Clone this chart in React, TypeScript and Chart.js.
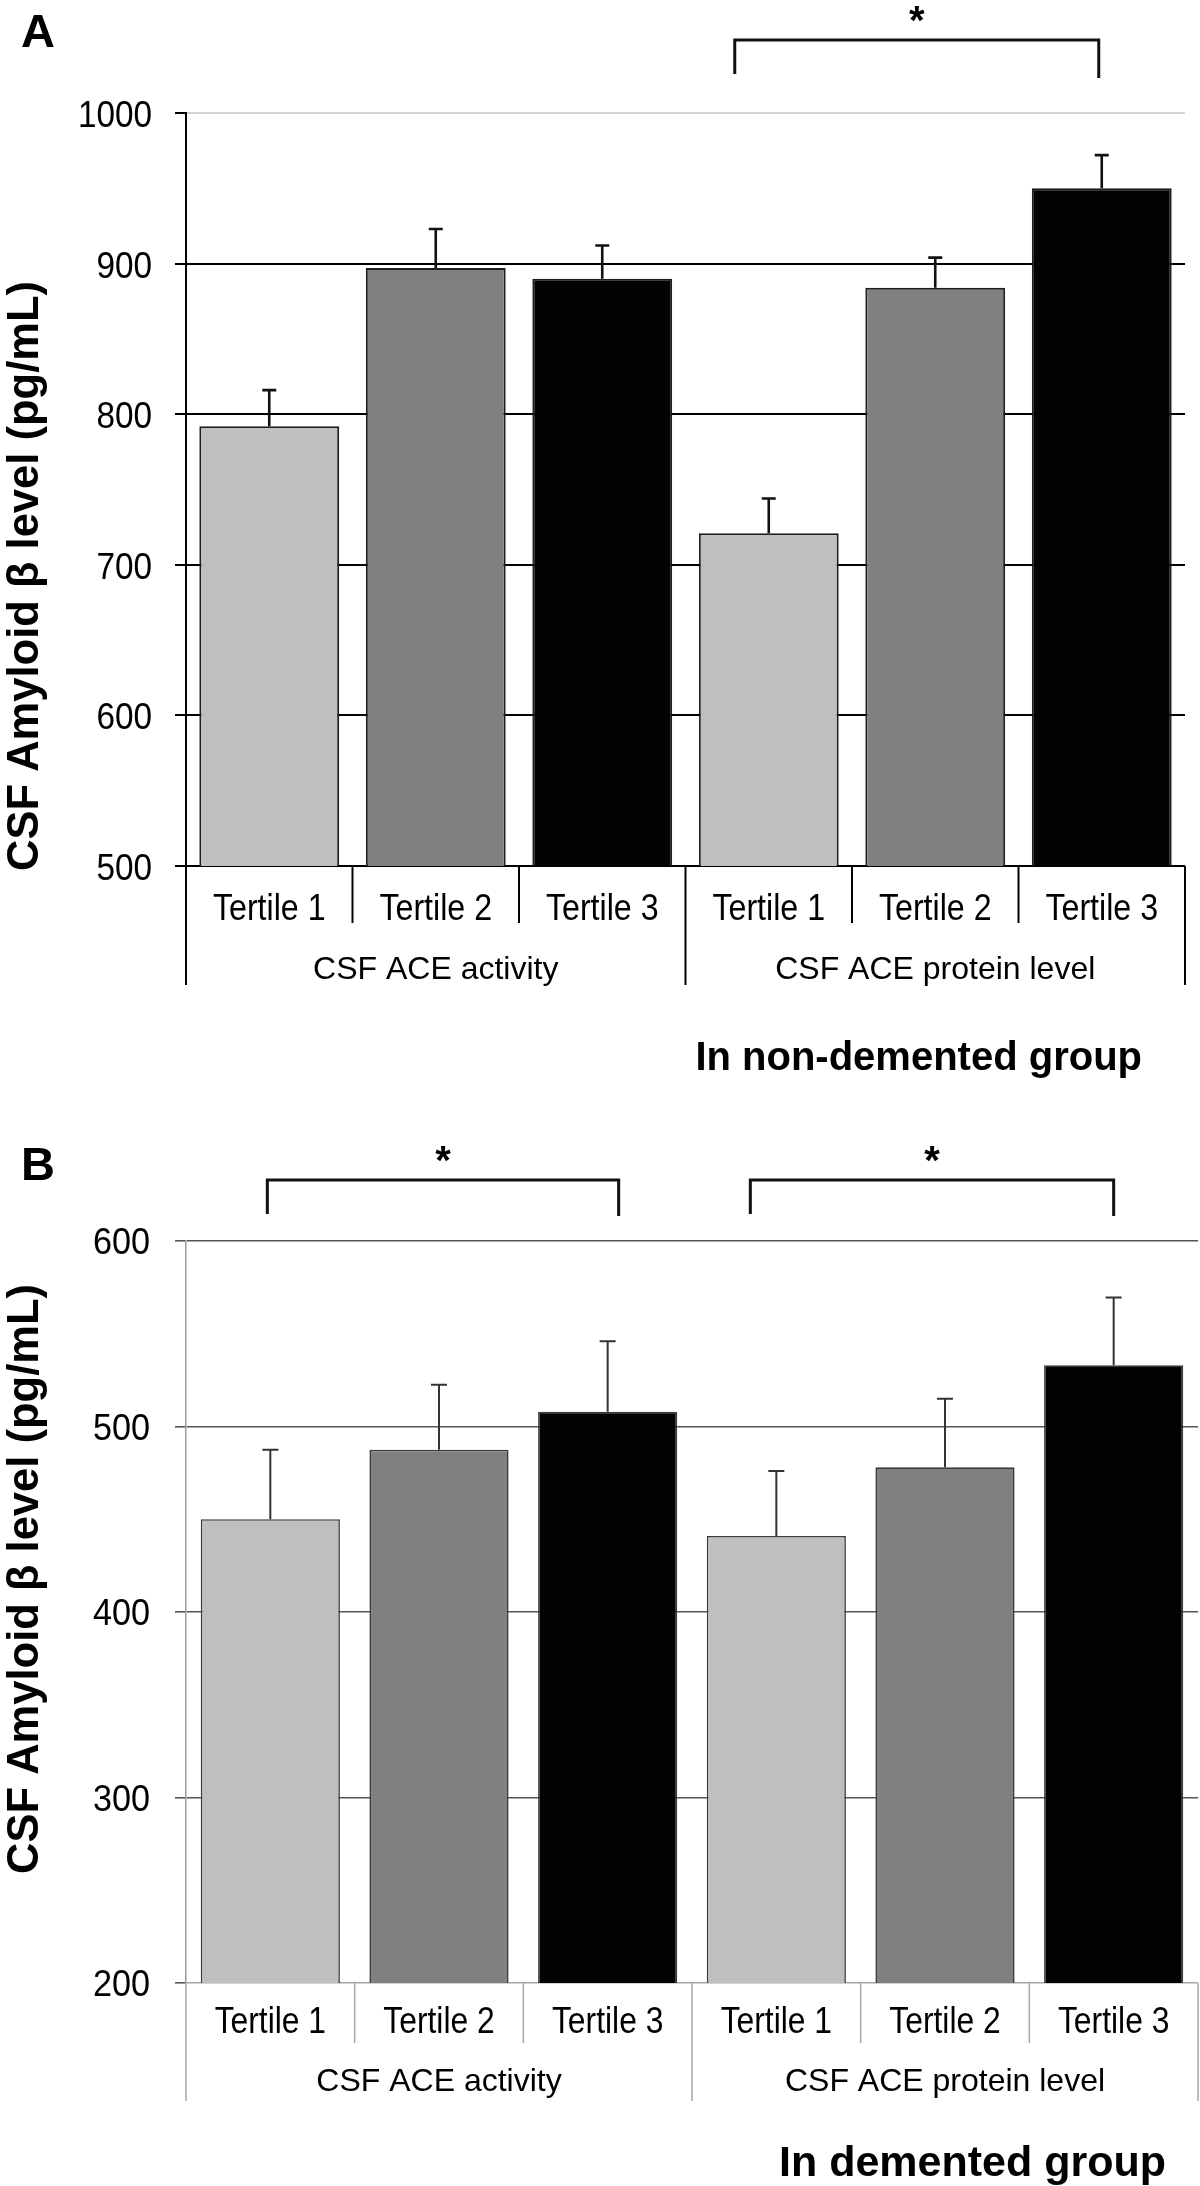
import React, { useEffect, useRef } from 'react';
import { Chart, registerables } from 'chart.js';

Chart.register(...registerables);

// ---------- data ----------
const tertileLabels = ['Tertile 1', 'Tertile 2', 'Tertile 3', 'Tertile 1', 'Tertile 2', 'Tertile 3'];
const groupLabels = ['CSF ACE activity', 'CSF ACE protein level'];
const groupSizes = [3, 3];
const barColors = ['#bfbfbf', '#808080', '#030303', '#bfbfbf', '#808080', '#030303'];
const yAxisTitle = 'CSF Amyloid β level (pg/mL)';

const nonDementedMeans = [792, 897, 890, 721, 884, 950];
const nonDementedErrors = [24, 26, 22, 23, 20, 22];
const nonDementedTicks = { min: 500, max: 1000, step: 100 };
const nonDementedBrackets = [{ from: 3, to: 5, label: '*' }];

const dementedMeans = [450, 487.5, 508, 441, 478, 533];
const dementedErrors = [37.5, 35, 38, 35, 37, 36.5];
const dementedTicks = { min: 200, max: 600, step: 100 };
const dementedBrackets = [
  { from: 0, to: 2, label: '*' },
  { from: 3, to: 5, label: '*' },
];

// ---------- styles / layout ----------
const FONT = '"Liberation Sans", Arial, Helvetica, sans-serif';
const W = 1200;

const panels = [
  {
    letter: 'A',
    caption: 'In non-demented group',
    means: nonDementedMeans,
    errors: nonDementedErrors,
    ticks: nonDementedTicks,
    brackets: nonDementedBrackets,
    bracketNudge: [[-34, -3]],
    canvasTop: 0,
    height: 1093,
    area: { top: 113, bottom: 866, left: 186, right: 1185 },
    gridColor: (v: number) => (v === 1000 ? '#d4d4d4' : '#000000'),
    gridWidth: 2,
    tickColor: '#000000',
    axisColor: '#000000',
    axisWidth: 2,
    dividerColor: '#000000',
    dividerWidth: 2,
    barBorder: '#1e1e1e',
    barBorderWidth: 2,
    barPct: 0.84,
    errColor: '#111111',
    errWidth: 2.6,
    cap: 14,
    tickFont: 37,
    tickSx: 0.9,
    tickRight: 152,
    tickBaseOff: 14,
    tertFont: 37,
    tertSx: 0.87,
    tertBaseline: 920,
    tertDivBottom: 923,
    groupFont: 32,
    groupBaseline: 979,
    groupDivBottom: 985,
    captionBaseline: 1070,
    captionRight: 1142,
    captionFont: 40,
    letterBaseline: 47,
    titleCenterY: 576,
    bracketTop: 40,
    bracketLegs: [74, 78],
    starCenter: 11,
  },
  {
    letter: 'B',
    caption: 'In demented group',
    means: dementedMeans,
    errors: dementedErrors,
    ticks: dementedTicks,
    brackets: dementedBrackets,
    bracketNudge: [[-3, 11], [-26, 0]],
    canvasTop: 1093,
    height: 1093,
    area: { top: 148, bottom: 890, left: 186, right: 1198 },
    gridColor: (v: number) => (v === 200 ? '#a6a6a6' : '#555555'),
    gridWidth: 1.6,
    tickColor: '#555555',
    axisColor: '#9a9a9a',
    axisWidth: 1.5,
    dividerColor: '#a6a6a6',
    dividerWidth: 1.5,
    barBorder: '#3a3a3a',
    barBorderWidth: 1.6,
    barPct: 0.825,
    errColor: '#333333',
    errWidth: 2,
    cap: 16,
    tickFont: 36,
    tickSx: 0.95,
    tickRight: 150,
    tickBaseOff: 13,
    tertFont: 37,
    tertSx: 0.86,
    tertBaseline: 940,
    tertDivBottom: 950,
    groupFont: 32,
    groupBaseline: 998,
    groupDivBottom: 1008,
    captionBaseline: 1083,
    captionRight: 1166,
    captionFont: 43,
    letterBaseline: 87,
    titleCenterY: 486,
    bracketTop: 87,
    bracketLegs: [121, 123],
    starCenter: 58,
  },
];

function drawText(
  ctx: CanvasRenderingContext2D,
  s: string,
  x: number,
  y: number,
  font: string,
  align: CanvasTextAlign,
  sx = 1,
  color = '#000000'
) {
  ctx.save();
  ctx.font = font;
  ctx.fillStyle = color;
  ctx.textBaseline = 'alphabetic';
  ctx.textAlign = align;
  ctx.translate(x, y);
  ctx.scale(sx, 1);
  ctx.fillText(s, 0, 0);
  ctx.restore();
}

function makePlugin(p: any) {
  return {
    id: 'extras' + p.letter,
    afterDatasetsDraw(chart: any) {
      const ctx = chart.ctx as CanvasRenderingContext2D;
      const xs = chart.scales.x;
      const ys = chart.scales.y;
      ctx.save();
      ctx.strokeStyle = p.errColor;
      ctx.lineWidth = p.errWidth;
      p.means.forEach((m: number, i: number) => {
        const cx = xs.getPixelForValue(i);
        const y0 = ys.getPixelForValue(m);
        const y1 = ys.getPixelForValue(m + p.errors[i]);
        ctx.beginPath();
        ctx.moveTo(cx, y0);
        ctx.lineTo(cx, y1);
        ctx.moveTo(cx - p.cap / 2, y1);
        ctx.lineTo(cx + p.cap / 2, y1);
        ctx.stroke();
      });
      ctx.restore();
    },
    afterDraw(chart: any) {
      const ctx = chart.ctx as CanvasRenderingContext2D;
      const xs = chart.scales.x;
      const ys = chart.scales.y;
      const a = chart.chartArea;
      const n = tertileLabels.length;
      const cw = (a.right - a.left) / n;

      // y tick labels
      ys.ticks.forEach((t: any) => {
        const py = ys.getPixelForValue(t.value);
        drawText(ctx, String(t.value), p.tickRight, py + p.tickBaseOff, `${p.tickFont}px ${FONT}`, 'right', p.tickSx);
      });

      // category dividers
      const groupBounds = new Set<number>();
      let acc = 0;
      groupBounds.add(0);
      groupSizes.forEach((g) => {
        acc += g;
        groupBounds.add(acc);
      });
      ctx.save();
      ctx.strokeStyle = p.dividerColor;
      ctx.lineWidth = p.dividerWidth;
      for (let k = 0; k <= n; k++) {
        const x = a.left + k * cw;
        ctx.beginPath();
        ctx.moveTo(x, a.bottom);
        ctx.lineTo(x, groupBounds.has(k) ? p.groupDivBottom : p.tertDivBottom);
        ctx.stroke();
      }
      ctx.restore();

      // tertile labels
      tertileLabels.forEach((lab, i) => {
        drawText(ctx, lab, xs.getPixelForValue(i), p.tertBaseline, `${p.tertFont}px ${FONT}`, 'center', p.tertSx);
      });

      // group labels
      let start = 0;
      groupLabels.forEach((g, gi) => {
        const end = start + groupSizes[gi];
        const cx = a.left + ((start + end) / 2) * cw;
        drawText(ctx, g, cx, p.groupBaseline, `${p.groupFont}px ${FONT}`, 'center');
        start = end;
      });

      // caption
      drawText(ctx, p.caption, p.captionRight, p.captionBaseline, `bold ${p.captionFont}px ${FONT}`, 'right');

      // panel letter
      drawText(ctx, p.letter, 21, p.letterBaseline, `bold 47px ${FONT}`, 'left');

      // y axis title (rotated)
      ctx.save();
      ctx.font = `bold 44px ${FONT}`;
      const tw = ctx.measureText(yAxisTitle).width;
      const sx = 590 / tw;
      ctx.translate(38, p.titleCenterY);
      ctx.rotate(-Math.PI / 2);
      ctx.scale(sx, 1);
      ctx.fillStyle = '#000000';
      ctx.textAlign = 'center';
      ctx.textBaseline = 'alphabetic';
      ctx.fillText(yAxisTitle, 0, 0);
      ctx.restore();

      // significance brackets
      p.brackets.forEach((b: any, bi: number) => {
        const x1 = xs.getPixelForValue(b.from) + p.bracketNudge[bi][0];
        const x2 = xs.getPixelForValue(b.to) + p.bracketNudge[bi][1];
        ctx.save();
        ctx.strokeStyle = '#111111';
        ctx.lineWidth = 3;
        ctx.lineJoin = 'miter';
        ctx.beginPath();
        ctx.moveTo(x1, p.bracketLegs[0]);
        ctx.lineTo(x1, p.bracketTop);
        ctx.lineTo(x2, p.bracketTop);
        ctx.lineTo(x2, p.bracketLegs[1]);
        ctx.stroke();
        ctx.restore();
        drawText(ctx, b.label, (x1 + x2) / 2, p.starCenter + 23, `bold 40px ${FONT}`, 'center');
      });
    },
  };
}

function Panel({ p }: { p: any }) {
  const ref = useRef<HTMLCanvasElement | null>(null);
  useEffect(() => {
    if (!ref.current) return;
    const chart = new Chart(ref.current, {
      type: 'bar',
      data: {
        labels: tertileLabels,
        datasets: [
          {
            data: p.means,
            backgroundColor: barColors,
            borderColor: p.barBorder,
            borderWidth: p.barBorderWidth,
            barPercentage: p.barPct,
            categoryPercentage: 1,
          },
        ],
      },
      options: {
        responsive: false,
        maintainAspectRatio: false,
        animation: false,
        layout: {
          padding: {
            top: p.area.top,
            left: 0,
            right: W - p.area.right,
            bottom: p.height - p.area.bottom,
          },
        },
        plugins: {
          legend: { display: false },
          tooltip: { enabled: false },
          title: { display: false },
        },
        scales: {
          x: { display: false },
          y: {
            min: p.ticks.min,
            max: p.ticks.max,
            ticks: { stepSize: p.ticks.step, display: false },
            grid: {
              color: (c: any) => p.gridColor(c.tick ? c.tick.value : 0),
              lineWidth: p.gridWidth,
              drawTicks: true,
              tickLength: 11,
              tickColor: p.tickColor,
              tickWidth: p.gridWidth,
            },
            border: { display: true, color: p.axisColor, width: p.axisWidth },
            afterFit: (s: any) => {
              s.width = p.area.left;
            },
          },
        },
      },
      plugins: [makePlugin(p)],
    } as any);
    return () => chart.destroy();
  }, []);
  return (
    <canvas
      ref={ref}
      width={W}
      height={p.height}
      style={{ position: 'absolute', left: 0, top: p.canvasTop, width: W, height: p.height }}
    />
  );
}

export default function App() {
  return (
    <div style={{ position: 'absolute', left: 0, top: 0, width: W, height: 2186, background: '#ffffff' }}>
      {panels.map((p) => (
        <Panel key={p.letter} p={p} />
      ))}
    </div>
  );
}
